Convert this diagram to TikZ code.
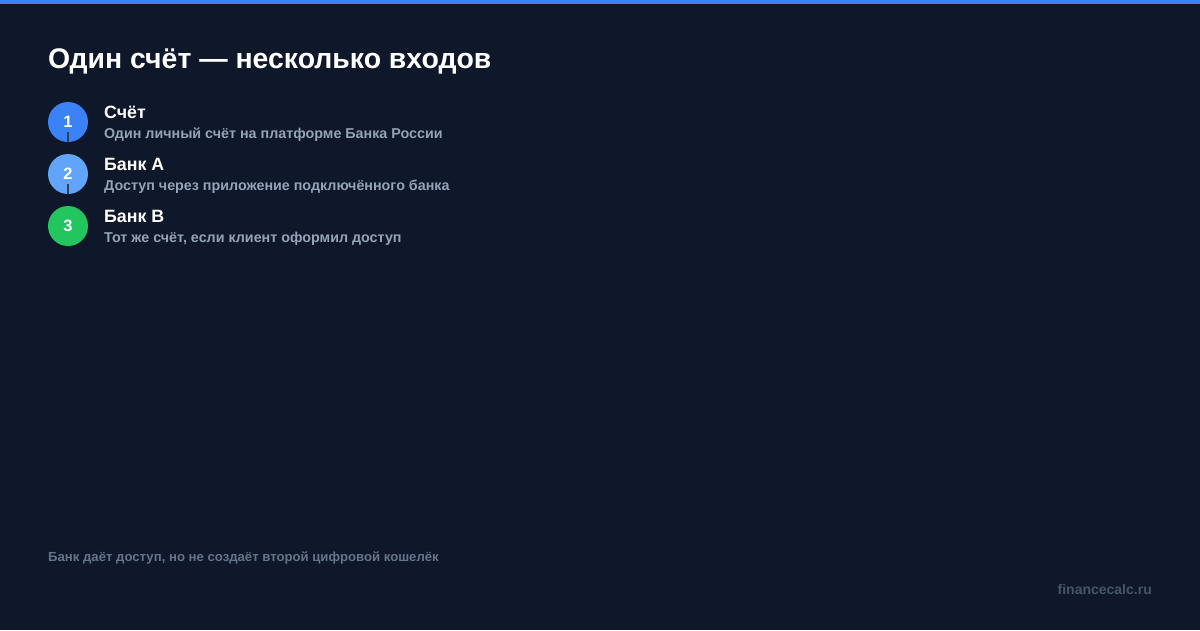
\documentclass[tikz,border=0pt]{standalone}
\usepackage{fontspec}
\setmainfont{Liberation Sans}
\definecolor{bg}{HTML}{0F172A}
\definecolor{topbar}{HTML}{3B82F6}
\definecolor{cone}{HTML}{3B82F6}
\definecolor{ctwo}{HTML}{60A5FA}
\definecolor{cthree}{HTML}{22C55E}
\definecolor{subgray}{HTML}{94A3B8}
\definecolor{footgray}{HTML}{64748B}
\definecolor{sitegray}{HTML}{475569}
\definecolor{linkgray}{HTML}{334155}
\tikzset{
  stepcircle/.style={circle, minimum size=40pt, inner sep=0pt, text=white, font=\bfseries\fontsize{16.5}{16.5}\selectfont},
  headtext/.style={anchor=base west, inner sep=0pt, text=white, font=\bfseries\fontsize{17.8}{17.8}\selectfont},
  subtext/.style={anchor=base west, inner sep=0pt, text=subgray, font=\bfseries\fontsize{14.3}{14.3}\selectfont},
  linkline/.style={draw=linkgray, line width=1.2pt}
}
\begin{document}
\begin{tikzpicture}[x=1pt,y=-1pt]
\useasboundingbox (0,0) rectangle (1200,630);
\fill[bg] (0,0) rectangle (1200,630);
\fill[topbar] (0,0) rectangle (1200,4);
\node[anchor=base west, inner sep=0pt, text=white, font=\bfseries\fontsize{28.4}{28.4}\selectfont] (title) at (48,68) {Один счёт — несколько входов};
% step 1
\node[stepcircle, fill=cone] (c1) at (68,122) {1};
\draw[linkline] ([yshift=-10pt]c1.center) -- (c1.south);
\node[stepcircle, fill=ctwo] (c2) at (68,174) {2};
\draw[linkline] ([yshift=-10pt]c2.center) -- (c2.south);
\node[stepcircle, fill=cthree] (c3) at (68,226) {3};
\node[headtext] (h1) at (104,118) {Счёт};
\node[subtext] (s1) at (104,138) {Один личный счёт на платформе Банка России};
\node[headtext] (h2) at (104,170) {Банк A};
\node[subtext] (s2) at (104,190) {Доступ через приложение подключённого банка};
\node[headtext] (h3) at (104,222) {Банк B};
\node[subtext] (s3) at (104,242) {Тот же счёт, если клиент оформил доступ};
\node[anchor=base west, inner sep=0pt, text=footgray, font=\bfseries\fontsize{13.15}{13.15}\selectfont] (foot) at (48,561) {Банк даёт доступ, но не создаёт второй цифровой кошелёк};
\node[anchor=base east, inner sep=0pt, text=sitegray, font=\bfseries\fontsize{14}{14}\selectfont] (site) at (1152,594) {financecalc.ru};
\end{tikzpicture}
\end{document}
